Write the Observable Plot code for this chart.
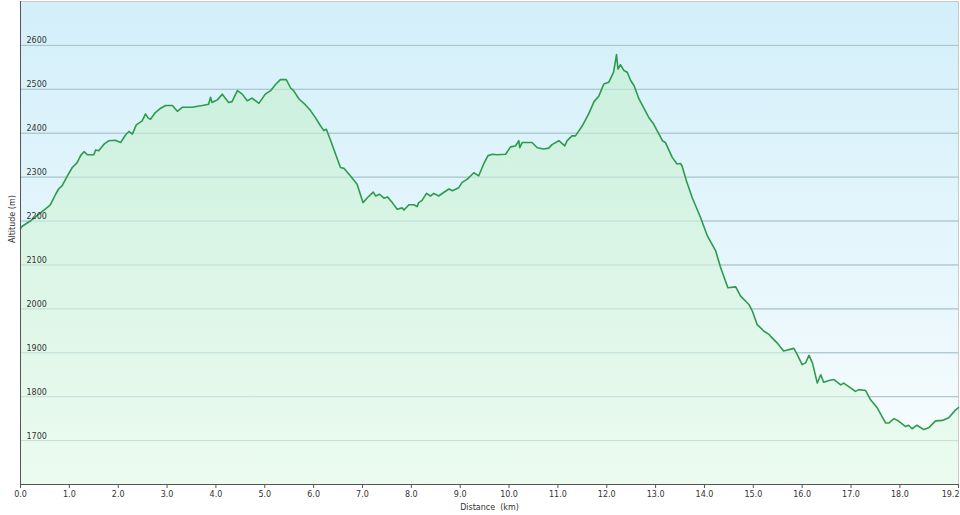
<!DOCTYPE html>
<html>
<head>
<meta charset="utf-8">
<script src="https://cdn.jsdelivr.net/npm/d3@7"></script>
<script src="https://cdn.jsdelivr.net/npm/@observablehq/plot@0.6"></script>
<style>
  html, body { margin: 0; padding: 0; background: #fff; }
  #chart svg { display: block; }
</style>
</head>
<body>
<div id="chart"></div>
<script>
// Distance along the route (km)
const distanceKm = [
  0.00, 0.02, 0.20, 0.37, 0.55, 0.61, 0.72, 0.78, 0.85, 0.96, 1.06, 1.16, 1.23, 1.30, 1.37, 1.50,
  1.54, 1.60, 1.71, 1.81, 1.94, 2.05, 2.15, 2.22, 2.29, 2.37, 2.49, 2.56, 2.61, 2.66, 2.76, 2.87,
  2.97, 3.11, 3.21, 3.31, 3.51, 3.72, 3.85, 3.89, 3.92, 3.99, 4.03, 4.13, 4.26, 4.33, 4.44, 4.54,
  4.64, 4.74, 4.88, 5.01, 5.12, 5.22, 5.32, 5.44, 5.53, 5.59, 5.70, 5.83, 5.94, 6.04, 6.14, 6.21,
  6.26, 6.35, 6.45, 6.55, 6.62, 6.75, 6.89, 7.01, 7.10, 7.22, 7.27, 7.35, 7.44, 7.51, 7.61, 7.71,
  7.81, 7.85, 7.95, 8.05, 8.12, 8.15, 8.22, 8.31, 8.39, 8.46, 8.56, 8.66, 8.77, 8.84, 8.97, 9.04,
  9.14, 9.28, 9.38, 9.48, 9.57, 9.66, 9.76, 9.93, 10.03, 10.13, 10.20, 10.22, 10.27, 10.47, 10.58, 10.71,
  10.81, 10.88, 11.02, 11.14, 11.19, 11.29, 11.36, 11.50, 11.63, 11.74, 11.84, 11.94, 12.04, 12.14, 12.20, 12.23,
  12.28, 12.35, 12.42, 12.49, 12.56, 12.66, 12.86, 12.96, 13.14, 13.20, 13.34, 13.44, 13.51, 13.54, 13.63, 13.75,
  13.92, 14.06, 14.23, 14.33, 14.48, 14.64, 14.74, 14.91, 14.98, 15.08, 15.22, 15.32, 15.35, 15.49, 15.62, 15.83,
  15.90, 16.00, 16.07, 16.14, 16.21, 16.31, 16.38, 16.44, 16.55, 16.65, 16.79, 16.85, 16.99, 17.09, 17.16, 17.30,
  17.40, 17.54, 17.71, 17.77, 17.88, 17.98, 18.12, 18.18, 18.25, 18.35, 18.49, 18.59, 18.73, 18.87, 19.00, 19.14,
  19.20
];
// Altitude (m)
const altitudeM = [
  2182, 2187, 2200, 2215, 2231, 2237, 2261, 2273, 2280, 2303, 2322, 2333, 2349, 2358, 2351, 2351,
  2362, 2360, 2375, 2383, 2384, 2379, 2396, 2404, 2398, 2419, 2428, 2444, 2435, 2432, 2447, 2457,
  2463, 2463, 2450, 2459, 2459, 2463, 2466, 2482, 2470, 2474, 2476, 2489, 2470, 2472, 2497, 2489,
  2474, 2480, 2468, 2489, 2497, 2511, 2522, 2522, 2503, 2497, 2478, 2465, 2451, 2435, 2417, 2406,
  2409, 2383, 2352, 2322, 2320, 2303, 2284, 2242, 2253, 2266, 2257, 2261, 2252, 2255, 2242, 2227,
  2230, 2225, 2237, 2237, 2233, 2242, 2247, 2263, 2257, 2263, 2257, 2265, 2273, 2269, 2276, 2288,
  2295, 2310, 2303, 2330, 2349, 2352, 2351, 2352, 2369, 2371, 2383, 2367, 2379, 2379, 2367, 2364,
  2366, 2374, 2383, 2371, 2383, 2394, 2394, 2417, 2444, 2472, 2485, 2512, 2516, 2539, 2579, 2546,
  2556, 2543, 2539, 2520, 2508, 2478, 2436, 2421, 2383, 2379, 2345, 2330, 2331, 2326, 2292, 2253,
  2208, 2166, 2132, 2094, 2048, 2050, 2029, 2010, 1995, 1964, 1949, 1942, 1938, 1922, 1904, 1910,
  1896, 1873, 1877, 1894, 1877, 1831, 1850, 1833, 1837, 1839, 1827, 1831, 1820, 1812, 1816, 1814,
  1793, 1774, 1740, 1740, 1750, 1744, 1732, 1735, 1727, 1735, 1725, 1729, 1745, 1746, 1752, 1770,
  1775
];
const yTicks = [1700, 1800, 1900, 2000, 2100, 2200, 2300, 2400, 2500, 2600];
const xTicks = [0, 1, 2, 3, 4, 5, 6, 7, 8, 9, 10, 11, 12, 13, 14, 15, 16, 17, 18, 19.2];
const xEndTick = [19.2];
const xLabel = "Distance\u00a0 (km)";
const yLabel = "Altitude (m)";

const profile = distanceKm.map((d, i) => ({km: d, alt: altitudeM[i]}));

const chart = Plot.plot({
  width: 960,
  height: 515,
  marginLeft: 20,
  marginRight: 2,
  marginTop: 1,
  marginBottom: 31,
  style: {fontFamily: "DejaVu Sans, Verdana, sans-serif", fontSize: "8px", color: "#333", background: "#fff"},
  x: {domain: [0, 19.2], axis: null},
  y: {domain: [1600, 2700], axis: null},
  marks: [
    Plot.frame({fill: "url(#bgGrad)", stroke: "#c8c8c8"}),
    Plot.ruleY(yTicks, {stroke: "#a9c2ca", strokeWidth: 1}),
    Plot.areaY(profile, {x: "km", y1: 1600, y2: "alt", fill: "url(#areaGrad)", curve: "linear"}),
    Plot.ruleY(yTicks, {stroke: "#a9c2ca", strokeWidth: 1, strokeOpacity: 0.55}),
    Plot.lineY(profile, {x: "km", y: "alt", stroke: "#2d9b4e", strokeWidth: 1.6, curve: "linear"}),
    Plot.text(yTicks, {x: 0, y: d => d, text: d => String(d), textAnchor: "start", lineAnchor: "bottom", dx: 6, dy: -2, fill: "#333", fontSize: 8}),
    Plot.axisX(xTicks, {tickSize: 4, tickPadding: 3, tickFormat: d => d === 19.2 ? "" : d.toFixed(1), stroke: "#555", fill: "#333", fontSize: 8, label: null}),
    Plot.text(xEndTick, {x: d => d, frameAnchor: "bottom", lineAnchor: "top", dy: 7, dx: 1, textAnchor: "end", text: d => d.toFixed(1), fill: "#333", fontSize: 8}),
    Plot.ruleY([1600], {stroke: "#555", strokeWidth: 1}),
    Plot.ruleX([0], {stroke: "#555", strokeWidth: 1}),
    Plot.text([xLabel], {frameAnchor: "bottom", dy: 25, fill: "#333", fontSize: 8}),
    Plot.text([yLabel], {frameAnchor: "left", dx: -8, rotate: -90, fill: "#333", fontSize: 8})
  ]
});

const svg = d3.select(chart);
const defs = svg.insert("defs", ":first-child");
const bg = defs.append("linearGradient").attr("id", "bgGrad")
  .attr("x1", 0).attr("y1", 0).attr("x2", 0).attr("y2", 1);
bg.append("stop").attr("offset", "0%").attr("stop-color", "#d3effa");
bg.append("stop").attr("offset", "60%").attr("stop-color", "#e8f7fc");
bg.append("stop").attr("offset", "100%").attr("stop-color", "#fbfdfe");
const ag = defs.append("linearGradient").attr("id", "areaGrad")
  .attr("gradientUnits", "userSpaceOnUse")
  .attr("x1", 0).attr("y1", 1).attr("x2", 0).attr("y2", 484);
ag.append("stop").attr("offset", "0%").attr("stop-color", "#c6eedb");
ag.append("stop").attr("offset", "100%").attr("stop-color", "#ecfbf0");

document.getElementById("chart").appendChild(chart);
</script>
</body>
</html>
